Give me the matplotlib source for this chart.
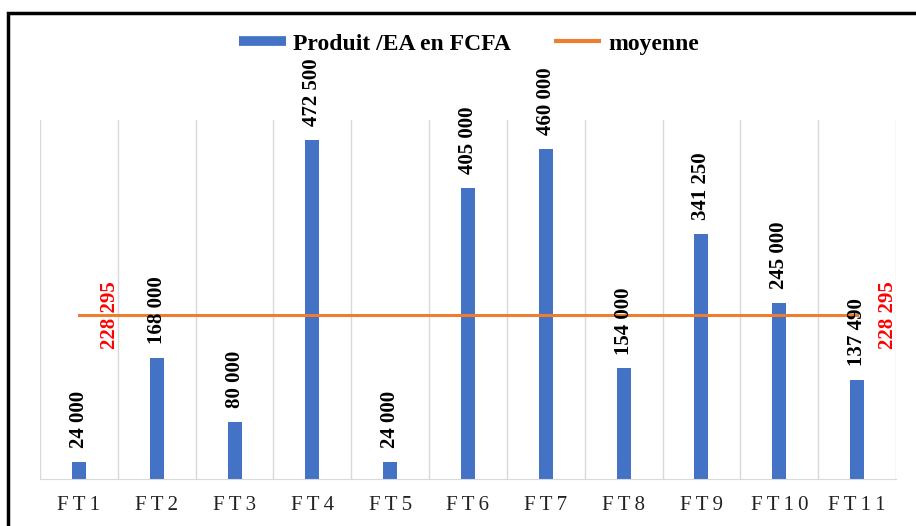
import numpy as np
import matplotlib.pyplot as plt
from matplotlib.patches import Rectangle
from matplotlib.lines import Line2D

categories = ['FT1', 'FT2', 'FT3', 'FT4', 'FT5', 'FT6', 'FT7', 'FT8', 'FT9', 'FT10', 'FT11']
produit = [24000, 168000, 80000, 472500, 24000, 405000, 460000, 154000, 341250, 245000, 137490]
moyenne = 228295

plt.rcParams['font.family'] = ['Liberation Serif', 'DejaVu Serif']

def fmt(v):
    return '{:,}'.format(v).replace(',', ' ')

fig = plt.figure(figsize=(9.16, 5.26), dpi=100)
ax = fig.add_axes([40 / 916, 1 - 479 / 526, 856 / 916, 359 / 526])

x = np.arange(len(categories))
ax.bar(x, produit, width=0.18, color='#4472C4', zorder=2)
ax.plot([x[0], x[-1]], [moyenne, moyenne], color='#ED7D31', lw=2.2, zorder=3)

for xi, v in zip(x, produit):
    ax.annotate(fmt(v), (xi, v), xytext=(0, 10), textcoords='offset points',
                rotation=90, ha='center', va='bottom', fontsize=15,
                fontweight='bold', color='black', zorder=4)

for xi in [x[0], x[-1]]:
    ax.text(xi + 0.4, moyenne, fmt(moyenne), rotation=90, ha='center', va='center',
            fontsize=15, fontweight='bold', color='red', zorder=4)

ax.set_xlim(-0.5, len(categories) - 0.5)
ax.set_ylim(0, 500000)
for b in np.arange(-0.5, len(categories), 1):
    ax.axvline(b, color='#D9D9D9', lw=1, zorder=1)
for s in ['left', 'right', 'top']:
    ax.spines[s].set_visible(False)
ax.spines['bottom'].set_color('#D9D9D9')
ax.set_yticks([])
ax.set_xticks(x)
ax.set_xticklabels(['\u2009'.join(c) for c in categories], fontsize=15, color='#222222')
ax.tick_params(axis='x', length=0, pad=12)

handles = [Line2D([0], [0], color='#4472C4', lw=7, solid_capstyle='butt'),
           Line2D([0], [0], color='#ED7D31', lw=3, solid_capstyle='butt')]
fig.legend(handles, ['Produit /EA en FCFA', 'moyenne'], loc='center',
           bbox_to_anchor=(469 / 916, 1 - 44 / 526), ncol=2, frameon=False,
           prop={'weight': 'bold', 'size': 17}, handlelength=2.0,
           handletextpad=0.3, columnspacing=1.8)

fig.patches.append(Rectangle((8 / 916, -0.1), 1.2, 1 - 13 / 526 + 0.1,
                             transform=fig.transFigure, fill=False,
                             edgecolor='black', lw=2.5))

fig.savefig('out.png', dpi=100)
